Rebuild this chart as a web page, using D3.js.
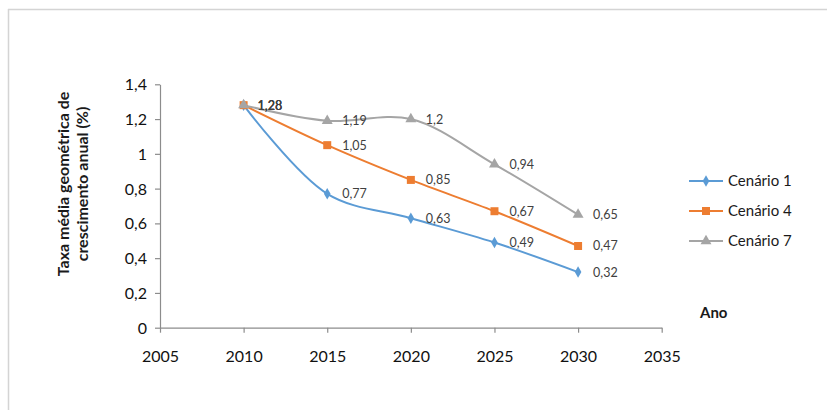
<!DOCTYPE html>
<html><head><meta charset="utf-8">
<script src="https://cdn.jsdelivr.net/npm/d3@7"></script>
<style>body{margin:0;background:#fff}svg{display:block}</style>
</head><body><svg id="c" width="827" height="410"></svg>
<script>
const years = [2010, 2015, 2020, 2025, 2030];
const cenario1 = [1.28, 0.77, 0.63, 0.49, 0.32];
const cenario4 = [1.28, 1.05, 0.85, 0.67, 0.47];
const cenario7 = [1.28, 1.19, 1.2, 0.94, 0.65];
const seriesNames = ["Cenário 1", "Cenário 4", "Cenário 7"];
const seriesColors = ["#5B9BD5", "#ED7D31", "#A5A5A5"];
const xTicks = [2005, 2010, 2015, 2020, 2025, 2030, 2035];
const yTicks = [0, 0.2, 0.4, 0.6, 0.8, 1, 1.2, 1.4];

const svg = d3.select("#c");
const font = "Lato, 'Open Sans', sans-serif";
// frame
svg.append("line").attr("x1",8).attr("x2",827).attr("y1",9.5).attr("y2",9.5).attr("stroke","#d4d4d4").attr("stroke-width",1.5);
svg.append("line").attr("x1",8.5).attr("x2",8.5).attr("y1",9).attr("y2",410).attr("stroke","#d4d4d4").attr("stroke-width",1.5);

const x = d3.scaleLinear().domain([2005,2035]).range([160,661.7]);
const y = d3.scaleLinear().domain([0,1.4]).range([327.7,84.3]);
const fmt = v => String(v).replace(".", ",");

const gx = svg.append("g").attr("transform","translate(0,327.7)")
  .call(d3.axisBottom(x).tickValues(xTicks).tickFormat(d=>d).tickSize(5).tickSizeOuter(0));
const gy = svg.append("g").attr("transform","translate(160,0)")
  .call(d3.axisLeft(y).tickValues(yTicks).tickFormat(fmt).tickSize(5).tickSizeOuter(0));
[gx,gy].forEach(g=>{
  g.selectAll("path,line").attr("stroke","#8c8c8c").attr("stroke-width",1.2);
  g.selectAll("text").attr("font-family",font).attr("font-size",16).attr("fill","#111");
});
gx.selectAll("text").attr("y",34).attr("dy",0);
gy.selectAll("text").attr("dx","-5").attr("dy","0.35em");

// y label
const yl = svg.append("text").attr("transform","translate(75,184) rotate(-90)")
  .attr("text-anchor","middle").attr("font-family",font).attr("font-size",16).attr("font-weight","bold").attr("fill","#1a1a1a");
yl.append("tspan").attr("x",0).attr("dy","-0.4em").text("Taxa média geométrica de");
yl.append("tspan").attr("x",0).attr("dy","1.2em").text("crescimento anual (%)");

svg.append("text").attr("x",700).attr("y",318).attr("font-family",font).attr("font-size",15).attr("font-weight","bold").attr("fill","#1a1a1a").text("Ano");

const data = [cenario1, cenario4, cenario7];
const symbols = [d3.symbolDiamond, d3.symbolSquare, d3.symbolTriangle];
const sizes = [38, 64, 52];
const line = d3.line().x((d,i)=>x(years[i])).y(d=>y(d)).curve(d3.curveCatmullRom.alpha(0.5));

data.forEach((vals,s)=>{
  svg.append("path").datum(vals).attr("d",line).attr("fill","none")
    .attr("stroke",seriesColors[s]).attr("stroke-width",2);
});
data.forEach((vals,s)=>{
  svg.append("g").selectAll("path").data(vals).join("path")
    .attr("transform",(d,i)=>`translate(${x(years[i])},${y(d)})`)
    .attr("d",d3.symbol().type(symbols[s]).size(sizes[s]))
    .attr("fill",seriesColors[s]);
});
data.forEach((vals,s)=>{
  svg.append("g").selectAll("text").data(vals).join("text")
    .attr("x",(d,i)=>x(years[i])+ (i===0?14:15))
    .attr("y",d=>y(d)+4.5)
    .attr("font-family",font).attr("font-size",12.5).attr("fill","#404040")
    .text(fmt);
});

// legend
seriesNames.forEach((n,s)=>{
  const ly = 181 + s*30;
  svg.append("line").attr("x1",689).attr("x2",723).attr("y1",ly).attr("y2",ly).attr("stroke",seriesColors[s]).attr("stroke-width",2);
  svg.append("path").attr("transform",`translate(706,${ly})`).attr("d",d3.symbol().type(symbols[s]).size(sizes[s])).attr("fill",seriesColors[s]);
  svg.append("text").attr("x",728).attr("y",ly+5).attr("font-family",font).attr("font-size",15).attr("fill","#1a1a1a").text(n);
});
</script></body></html>
